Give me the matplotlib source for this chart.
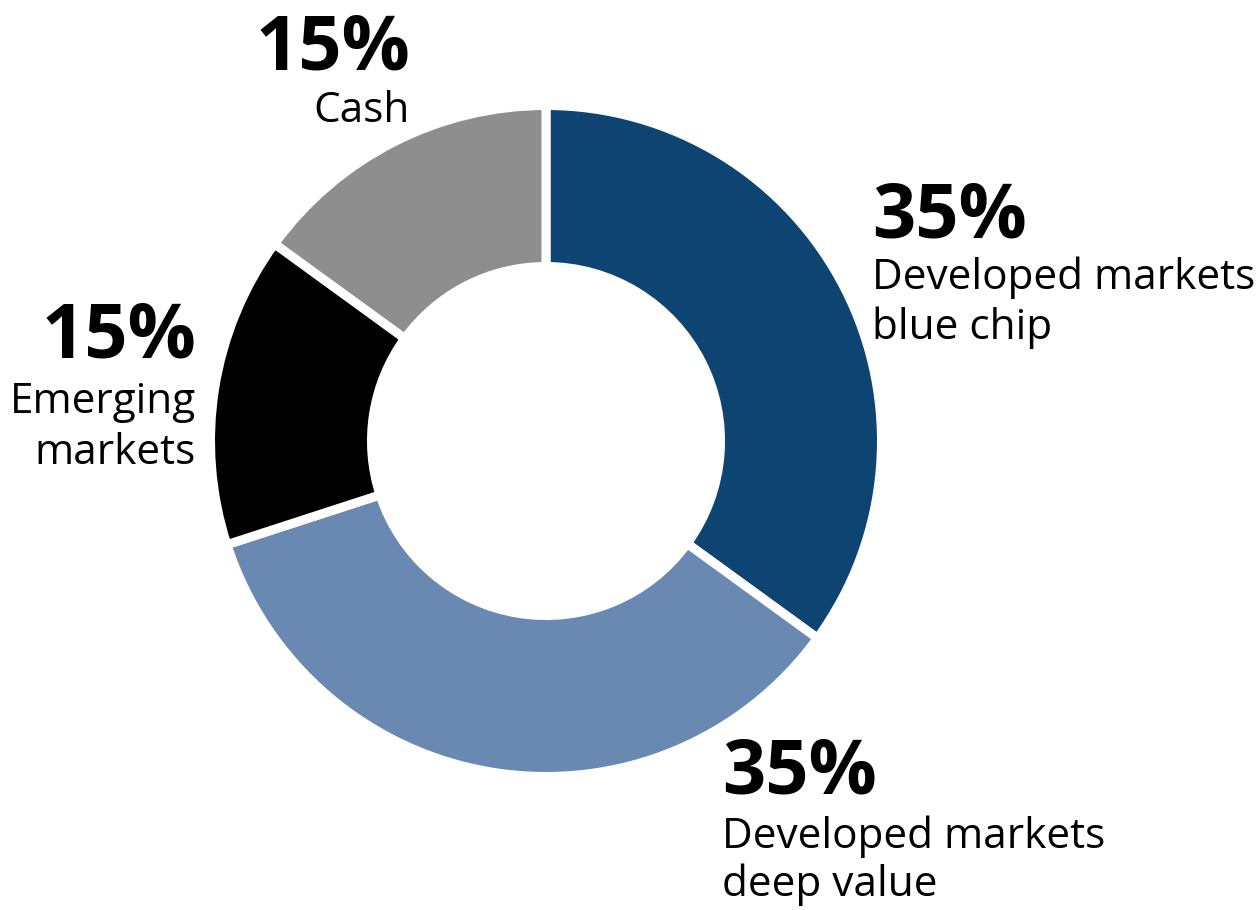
import matplotlib
matplotlib.use("Agg")
import matplotlib.pyplot as plt

categories = ["Developed markets\nblue chip", "Developed markets\ndeep value",
              "Emerging\nmarkets", "Cash"]
values = [35, 35, 15, 15]
pct_labels = ["35%", "35%", "15%", "15%"]
colors = ["#0E4472", "#6A89B2", "#000000", "#8E8E8E"]

W, H = 1256, 910
fig = plt.figure(figsize=(W / 100, H / 100), dpi=100)
ax = fig.add_axes([0, 0, 1, 1])

cx, cy = 546, H - 441
R, r = 335.5, 174.5
ax.pie(values, colors=colors, startangle=90, counterclock=False,
       center=(cx, cy), radius=R,
       wedgeprops=dict(width=R - r, edgecolor="white", linewidth=6.5))
ax.set_xlim(0, W)
ax.set_ylim(0, H)
ax.set_aspect("auto")
ax.axis("off")

FONT = "Open Sans"
# (x, pct baseline y, first label baseline y, line gap, alignment) in px from top
pos = [
    (872, 238, 289, 50, "left"),
    (722, 794, 848, 48, "left"),
    (196, 357, 413, 51, "right"),
    (410, 70, 122, 50, "right"),
]
for (x, yp, yl, gap, ha), pct, cat in zip(pos, pct_labels, categories):
    ax.text(x, H - yp, pct, ha=ha, va="baseline", fontsize=54.5,
            fontweight="bold", family=FONT, color="black")
    for i, line in enumerate(cat.split("\n")):
        ax.text(x, H - (yl + i * gap), line, ha=ha, va="baseline",
                fontsize=30.4, family=FONT, color="black")

fig.savefig("out.png", dpi=100)
